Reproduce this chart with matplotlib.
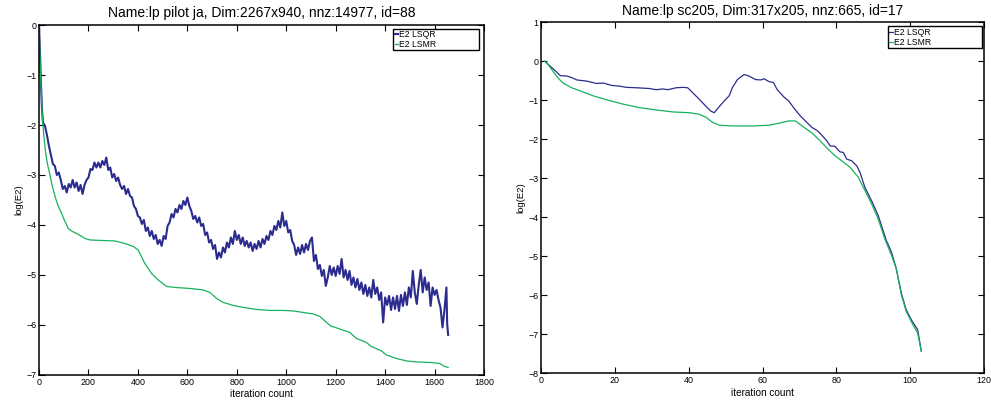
import matplotlib
matplotlib.use("Agg")
import matplotlib.pyplot as plt
import numpy as np

# ---- left panel: lp pilot ja ----
lsqr1_head_x = [0, 4, 8, 12]
lsqr1_head_y = [0.0, -0.6, -1.2, -1.7]
# values every 8 iterations from 16 to 1648
lsqr1_vals = [
    -1.95, -2.02, -2.2, -2.42, -2.6, -2.78, -2.82, -3.0,
    -2.95, -3.1, -3.28, -3.22, -3.35, -3.18, -3.25, -3.1,
    -3.25, -3.15, -3.32, -3.2, -3.38, -3.2, -3.1, -3.05,
    -2.88, -2.9, -2.75, -2.85, -2.75, -2.85, -2.72, -2.8,
    -2.65, -2.9, -2.85, -3.05, -2.98, -3.12, -3.05, -3.2,
    -3.28, -3.22, -3.38, -3.28, -3.42, -3.45, -3.62, -3.68,
    -3.82, -3.85, -3.98, -3.9, -4.12, -4.05, -4.22, -4.12,
    -4.28, -4.2, -4.38, -4.3, -4.42, -4.22, -4.28, -4.02,
    -3.95, -3.78, -3.85, -3.68, -3.75, -3.6, -3.68, -3.52,
    -3.6, -3.45, -3.62, -3.72, -3.88, -3.82, -3.95, -3.85,
    -4.02, -3.98, -4.2, -4.15, -4.35, -4.3, -4.48, -4.4,
    -4.68, -4.55, -4.65, -4.45, -4.55, -4.35, -4.45, -4.25,
    -4.38, -4.12, -4.3, -4.2, -4.38, -4.25, -4.42, -4.32,
    -4.45, -4.35, -4.52, -4.38, -4.48, -4.32, -4.45, -4.28,
    -4.38, -4.22, -4.3, -4.12, -4.2, -4.02, -4.1, -3.92,
    -4.05, -3.75, -4.02, -3.92, -4.15, -4.1, -4.32, -4.4,
    -4.6, -4.45, -4.58, -4.4, -4.55, -4.38, -4.5, -4.32,
    -4.25, -4.72, -4.6, -4.88, -4.8, -5.02, -4.9, -5.22,
    -5.05, -4.82, -5.0, -4.85, -5.02, -4.82, -4.98, -4.68,
    -5.05, -4.9, -5.1, -4.92, -5.2, -5.05, -5.25, -5.08,
    -5.3, -5.15, -5.38, -5.2, -5.42, -5.25, -5.45, -5.1,
    -5.38, -5.25, -5.5, -5.35, -5.95, -5.45, -5.6, -5.42,
    -5.7, -5.45, -5.68, -5.42, -5.72, -5.4, -5.62, -5.35,
    -5.6, -5.25, -5.45, -4.92, -5.35, -5.58, -5.2, -4.9,
    -5.35, -5.05, -5.3, -5.15, -5.62, -5.25, -5.4, -5.3,
    -5.5, -5.65, -6.05, -5.7, -5.25,
]
lsqr1_tail_x = [1651, 1655]
lsqr1_tail_y = [-5.98, -6.2]

lsmr1_x = [0, 2, 4, 6, 8, 11, 14, 20, 27, 34, 42, 54, 66, 76, 85, 94, 102,
           110, 118, 135, 152, 170, 186, 206, 253, 307, 347, 381, 401, 428,
           455, 482, 516, 550, 610, 664, 691, 718, 745, 786, 826, 880, 934,
           988, 1028, 1068, 1109, 1136, 1163, 1180, 1216, 1257, 1284, 1324,
           1344, 1385, 1405, 1445, 1486, 1526, 1580, 1620, 1640, 1655]
lsmr1_y = [0, -0.35, -0.7, -1.0, -1.23, -1.55, -1.9, -2.25, -2.57, -2.78,
           -2.95, -3.23, -3.45, -3.6, -3.7, -3.8, -3.9, -3.98, -4.07, -4.13,
           -4.17, -4.22, -4.27, -4.3, -4.31, -4.32, -4.37, -4.43, -4.5, -4.77,
           -4.97, -5.1, -5.23, -5.25, -5.27, -5.3, -5.35, -5.47, -5.55, -5.61,
           -5.65, -5.69, -5.71, -5.71, -5.72, -5.75, -5.78, -5.83, -5.95,
           -6.02, -6.08, -6.15, -6.27, -6.35, -6.43, -6.52, -6.6, -6.67,
           -6.72, -6.74, -6.75, -6.77, -6.83, -6.85]

# ---- right panel: lp sc205 ----
lsqr2_x = [1, 2.5, 3.9, 5.2, 7, 8.3, 9.7, 12.4, 15, 16.9, 19.1, 21.3, 23.1,
           25.8, 29.4, 31.2, 33, 34.3, 36.6, 38.4, 39.7, 41.1, 42.9, 44.7, 46,
           46.9, 48.3, 49.6, 51, 51.8, 53.2, 55, 56.3, 58.1, 59.5, 60.4, 61.7,
           63, 63.9, 65.7, 67.1, 68.4, 70.2, 71.6, 73.4, 74.7, 76, 77.4, 78.3,
           79.6, 80.9, 81.9, 82.8, 84.1, 85.5, 86.4, 87.7, 89.5, 91.3, 92.2,
           93.5, 94.9, 96.2, 97.6, 98.9, 100.3, 102, 103]
lsqr2_y = [0, -0.13, -0.25, -0.37, -0.38, -0.42, -0.48, -0.51, -0.57, -0.56,
           -0.62, -0.64, -0.67, -0.68, -0.70, -0.73, -0.71, -0.73, -0.68,
           -0.67, -0.68, -0.81, -0.98, -1.16, -1.28, -1.32, -1.16, -1.02,
           -0.88, -0.68, -0.47, -0.34, -0.38, -0.47, -0.48, -0.45, -0.52,
           -0.55, -0.72, -0.91, -1.02, -1.19, -1.40, -1.53, -1.70, -1.77,
           -1.89, -2.04, -2.17, -2.18, -2.32, -2.34, -2.51, -2.55, -2.68,
           -2.85, -3.23, -3.57, -3.95, -4.21, -4.59, -4.89, -5.31, -5.95,
           -6.37, -6.63, -6.88, -7.43]

lsmr2_x = [1, 2.1, 3.4, 4.8, 6.1, 8.3, 10.6, 14.2, 17.8, 22.2, 26.7, 31.2,
           35.7, 40.2, 42.9, 44.7, 46.5, 48.3, 51.8, 57.2, 61.7, 64.4, 67.1,
           68.9, 70.7, 73.4, 75.6, 77.9, 79.6, 81.4, 83.7, 85.9, 87.7, 89.5,
           91.3, 93.1, 94.9, 96.2, 97.6, 98.9, 100.7, 102, 103]
lsmr2_y = [0, -0.11, -0.28, -0.45, -0.57, -0.68, -0.76, -0.89, -0.99, -1.10,
           -1.19, -1.25, -1.30, -1.32, -1.36, -1.44, -1.57, -1.64, -1.66,
           -1.66, -1.64, -1.59, -1.53, -1.53, -1.66, -1.84, -2.04, -2.27,
           -2.42, -2.55, -2.72, -2.97, -3.31, -3.65, -4.04, -4.55, -4.97,
           -5.31, -5.99, -6.41, -6.75, -6.97, -7.43]

blue = '#2b2c8e'
green = '#17b25c'

lsqr1_x = lsqr1_head_x + list(np.arange(16, 1656, 8)) + lsqr1_tail_x
lsqr1_y = lsqr1_head_y + lsqr1_vals + lsqr1_tail_y

plt.rcParams['font.family'] = ['Liberation Sans', 'DejaVu Sans']
plt.rcParams['axes.unicode_minus'] = True

fig = plt.figure(figsize=(9.91, 4.04), dpi=100)
ax1 = fig.add_axes([0.0394, 0.072, 0.449, 0.866])
ax2 = fig.add_axes([0.546, 0.076, 0.447, 0.869])

panels = [
    (ax1, lsqr1_x, lsqr1_y, lsmr1_x, lsmr1_y, 1.5,
     'Name:lp pilot ja, Dim:2267x940, nnz:14977, id=88', (0, 1800), (-7, 0),
     (0.796, 0.926, 0.193, 0.063), 6),
    (ax2, lsqr2_x, lsqr2_y, lsmr2_x, lsmr2_y, 0.9,
     'Name:lp sc205, Dim:317x205, nnz:665, id=17', (0, 120), (-8, 1),
     (0.783, 0.931, 0.212, 0.057), 5),
]

for ax, qx, qy, mx, my, qlw, title, xl, yl, lbox, tpad in panels:
    ax.plot(qx, qy, color=blue, lw=qlw, label='E2 LSQR')
    ax.plot(mx, my, color=green, lw=0.9, label='E2 LSMR')
    ax.set_xlim(*xl)
    ax.set_ylim(*yl)
    ax.set_title(title, fontsize=10, pad=tpad)
    ax.set_xlabel('iteration count', fontsize=7.2, labelpad=2)
    ax.set_ylabel('log(E2)', fontsize=6.8, labelpad=2)
    ax.tick_params(direction='in', top=True, right=True, length=4,
                   width=0.8, labelsize=6.4, pad=2)
    for s in ax.spines.values():
        s.set_linewidth(1.1)
    leg = ax.legend(loc='upper left', bbox_to_anchor=lbox, mode='expand',
                    fontsize=6.2, handlelength=0.4, handletextpad=0.1,
                    borderpad=0.15, labelspacing=0.1, fancybox=False,
                    framealpha=1, edgecolor='black', borderaxespad=0)
    leg.get_frame().set_linewidth(1.0)

ax1.set_xticks(np.arange(0, 1801, 200))
ax1.set_yticks(np.arange(-7, 1, 1))
ax2.set_xticks(np.arange(0, 121, 20))
ax2.set_yticks(np.arange(-8, 2, 1))

fig.savefig('out.png', dpi=100)
plt.close(fig)
